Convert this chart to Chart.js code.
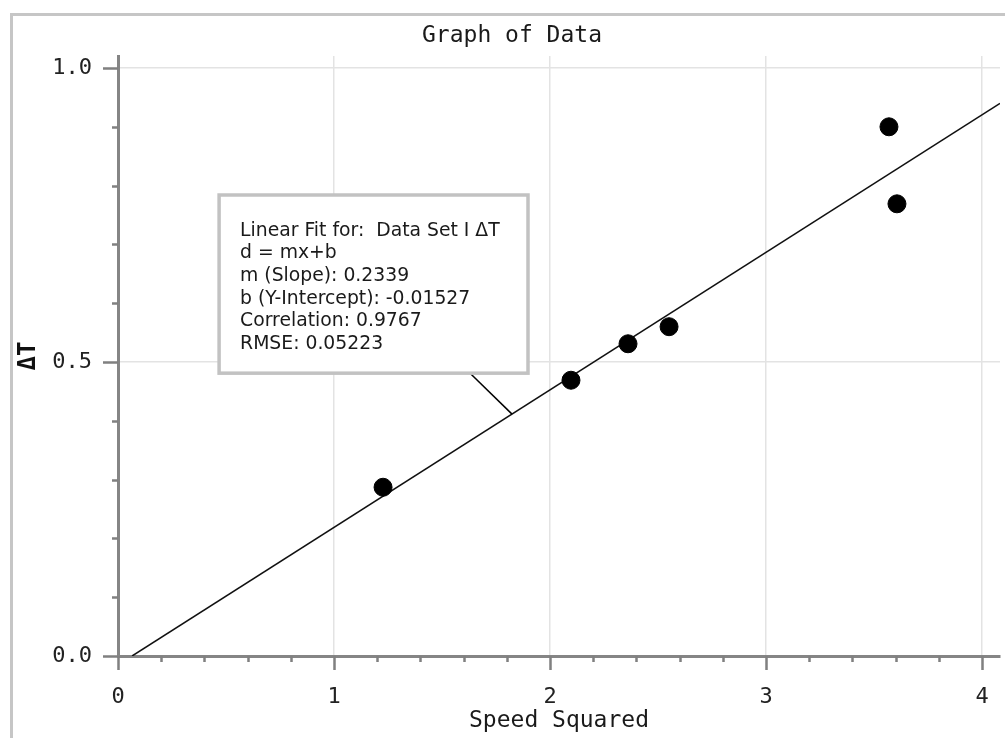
<!DOCTYPE html>
<html>
<head>
<meta charset="utf-8">
<title>Graph of Data</title>
<script src="https://cdn.jsdelivr.net/npm/chart.js@4.4.1/dist/chart.umd.min.js"></script>
<style>
  body { margin: 0; background: #fff; }
</style>
</head>
<body>
<canvas id="graph" width="1005" height="738"></canvas>
<script>
// Measured data set (speed squared vs temperature change)
const speedSquared = [1.227, 2.097, 2.361, 2.551, 3.569, 3.606];
const deltaT = [0.287, 0.469, 0.531, 0.560, 0.900, 0.769];

// Linear fit values, as printed in the annotation box
const fitSlope = 0.2339;
const fitIntercept = -0.01527;
const fitCorrelation = 0.9767;
const fitRmse = 0.05223;

// Axis ranges and tick steps
const xRange = [0, 4.083];
const yRange = [0, 1.0204];
const xTickStep = 0.2;
const yTickStep = 0.1;
const xMajorEvery = 1;
const yMajorEvery = 0.5;

const MONO = "'DejaVu Sans Mono', 'Liberation Mono', monospace";
const SANS = "'DejaVu Sans', 'Liberation Sans', sans-serif";

// fit line runs from where it crosses zero to the right edge of the plot
const fitStartX = -fitIntercept / fitSlope;
const fitLine = [fitStartX, xRange[1]].map(x => ({ x: x, y: fitSlope * x + fitIntercept }));

const fitText = [
    'Linear Fit for:  Data Set I \u0394T',
    'd = mx+b',
    'm (Slope): ' + fitSlope,
    'b (Y-Intercept): ' + fitIntercept,
    'Correlation: ' + fitCorrelation,
    'RMSE: ' + fitRmse
];

// where the annotation box sits (data coords) and where its leader meets the fit
const boxCorner = { left: 0.468, right: 1.898, top: 0.784, bottom: 0.481 };
const leaderFromX = 1.63;
const leaderToX = 1.824;

function isMajor(v, every) {
    const r = v / every;
    return Math.abs(r - Math.round(r)) < 1e-6;
}

// gray frame round the graph window
const framePlugin = {
    id: 'frame',
    beforeDraw(chart) {
        const ctx = chart.ctx;
        ctx.save();
        ctx.strokeStyle = '#c6c6c6';
        ctx.lineWidth = 3;
        ctx.beginPath();
        ctx.moveTo(11.5, chart.height);
        ctx.lineTo(11.5, 14.5);
        ctx.lineTo(chart.width, 14.5);
        ctx.stroke();
        ctx.restore();
    }
};

// major and minor tick marks on both axes
const tickPlugin = {
    id: 'tickMarks',
    afterDraw(chart) {
        const ctx = chart.ctx;
        const xs = chart.scales.x, ys = chart.scales.y;
        const area = chart.chartArea;
        ctx.save();
        ctx.strokeStyle = '#808080';
        ctx.lineWidth = 2.5;
        ctx.beginPath();
        xs.ticks.forEach(t => {
            const px = Math.round(xs.getPixelForValue(t.value)) + 0.5;
            const len = isMajor(t.value, xMajorEvery) ? 14 : 6;
            ctx.moveTo(px, area.bottom);
            ctx.lineTo(px, area.bottom + len);
        });
        ys.ticks.forEach(t => {
            const py = Math.round(ys.getPixelForValue(t.value)) + 0.5;
            const len = isMajor(t.value, yMajorEvery) ? 15 : 6;
            ctx.moveTo(area.left, py);
            ctx.lineTo(area.left - len, py);
        });
        ctx.stroke();
        ctx.restore();
    }
};

// the linear fit box with its leader line
const fitBoxPlugin = {
    id: 'fitBox',
    afterDatasetsDraw(chart) {
        const ctx = chart.ctx;
        const xs = chart.scales.x, ys = chart.scales.y;
        const l = xs.getPixelForValue(boxCorner.left);
        const r = xs.getPixelForValue(boxCorner.right);
        const t = ys.getPixelForValue(boxCorner.top);
        const b = ys.getPixelForValue(boxCorner.bottom);
        ctx.save();

        ctx.strokeStyle = '#000';
        ctx.lineWidth = 1.5;
        ctx.beginPath();
        ctx.moveTo(xs.getPixelForValue(leaderFromX), b);
        ctx.lineTo(xs.getPixelForValue(leaderToX), ys.getPixelForValue(fitSlope * leaderToX + fitIntercept));
        ctx.stroke();

        ctx.fillStyle = '#fff';
        ctx.fillRect(l, t, r - l, b - t);
        ctx.strokeStyle = '#c2c2c2';
        ctx.lineWidth = 3.5;
        ctx.strokeRect(l, t, r - l, b - t);

        ctx.fillStyle = '#1a1a1a';
        ctx.font = '18.8px ' + SANS;
        ctx.textBaseline = 'middle';
        ctx.textAlign = 'left';
        fitText.forEach((line, i) => {
            ctx.fillText(line, l + 21, t + 36 + i * 22.6);
        });
        ctx.restore();
    }
};

new Chart(document.getElementById('graph'), {
    type: 'scatter',
    data: {
        datasets: [
            {
                label: 'Data Set I',
                data: speedSquared.map((x, i) => ({ x: x, y: deltaT[i] })),
                backgroundColor: '#000',
                borderColor: '#000',
                pointRadius: 9,
                pointHoverRadius: 9,
                order: 0
            },
            {
                type: 'line',
                label: 'Linear Fit',
                data: fitLine,
                borderColor: '#111',
                borderWidth: 1.5,
                pointRadius: 0,
                fill: false,
                order: 1
            }
        ]
    },
    options: {
        responsive: false,
        animation: false,
        layout: { autoPadding: false, padding: { left: 24, right: 5, top: 0, bottom: 0 } },
        plugins: {
            legend: { display: false },
            tooltip: { enabled: false },
            title: {
                display: true,
                text: 'Graph of Data',
                color: '#1a1a1a',
                font: { family: MONO, size: 23, weight: 'normal', lineHeight: 1 },
                padding: { top: 25, bottom: 8 }
            }
        },
        scales: {
            x: {
                type: 'linear',
                min: xRange[0],
                max: xRange[1],
                afterFit(scale) {
                    scale.height = 82;
                    scale.paddingLeft = 0;
                    scale.paddingRight = 0;
                },
                border: { color: '#858585', width: 3 },
                grid: {
                    color: c => (c.tick && isMajor(c.tick.value, xMajorEvery)) ? '#e3e3e3' : 'rgba(0,0,0,0)',
                    lineWidth: 1.5,
                    tickLength: 14,
                    tickColor: 'rgba(0,0,0,0)'
                },
                ticks: {
                    stepSize: xTickStep,
                    includeBounds: false,
                    autoSkip: false,
                    maxRotation: 0,
                    padding: 14,
                    color: '#222',
                    font: { family: MONO, size: 22 },
                    callback: v => isMajor(v, xMajorEvery) ? String(Math.round(v)) : ''
                },
                title: {
                    display: true,
                    text: 'Speed Squared',
                    color: '#1a1a1a',
                    font: { family: MONO, size: 23, lineHeight: 1 },
                    padding: { top: 0, bottom: 5 }
                }
            },
            y: {
                type: 'linear',
                min: yRange[0],
                max: yRange[1],
                afterFit(scale) {
                    scale.width = 94;
                    scale.paddingTop = 0;
                    scale.paddingBottom = 0;
                },
                border: { color: '#858585', width: 3 },
                grid: {
                    color: c => (c.tick && isMajor(c.tick.value, yMajorEvery)) ? '#e3e3e3' : 'rgba(0,0,0,0)',
                    lineWidth: 1.5,
                    tickLength: 14,
                    tickColor: 'rgba(0,0,0,0)'
                },
                ticks: {
                    stepSize: yTickStep,
                    includeBounds: false,
                    autoSkip: false,
                    padding: 12,
                    color: '#222',
                    font: { family: MONO, size: 22 },
                    callback: v => isMajor(v, yMajorEvery) ? v.toFixed(1) : ''
                },
                title: {
                    display: true,
                    text: '\u0394T',
                    color: '#111',
                    font: { family: MONO, size: 24, weight: 'bold', lineHeight: 1 },
                    padding: { top: -7, bottom: 0 }
                }
            }
        }
    },
    plugins: [framePlugin, tickPlugin, fitBoxPlugin]
});
</script>
</body>
</html>
